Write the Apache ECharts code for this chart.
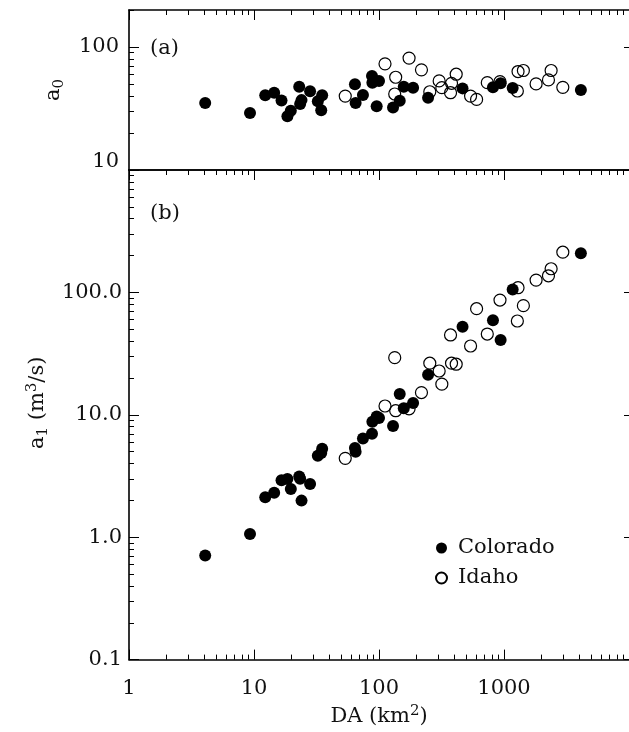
<!DOCTYPE html>
<html><head><meta charset="utf-8">
<script src="https://cdn.jsdelivr.net/npm/echarts@6/dist/echarts.min.js"></script>
<style>html,body{margin:0;padding:0;background:#fff}#c{width:629px;height:732px}</style>
</head><body><div id="c"></div>
<script>
// ---- data ----
const coloradoDA = [4.07, 9.29, 12.3, 14.5, 16.6, 18.5, 19.7, 23.0, 23.4, 24.0, 28.1, 32.4, 34.5, 35.1, 64.2, 65.0, 74.4, 87.9, 88.5, 95.8, 100, 129.5, 146.5, 157.8, 187.4, 247, 466, 816, 940, 1173, 4121];
const coloradoA0 = [35.1, 29.1, 40.5, 42.5, 36.8, 27.4, 30.3, 47.6, 34.4, 37.0, 43.6, 36.3, 30.6, 40.5, 49.8, 35.1, 40.7, 58.2, 51.3, 33.0, 52.9, 32.2, 36.6, 47.6, 46.7, 38.6, 46.1, 47.0, 50.7, 46.4, 44.7];
const coloradoA1 = [0.71, 1.06, 2.12, 2.31, 2.92, 2.99, 2.48, 3.13, 3.0, 1.99, 2.72, 4.63, 4.87, 5.28, 5.35, 4.99, 6.41, 7.0, 8.77, 9.69, 9.4, 8.09, 14.8, 11.3, 12.5, 21.2, 52.5, 59.1, 40.8, 105.8, 209];
const idahoDA = [53.7, 111.7, 133.6, 136.0, 174.0, 218.6, 254.9, 302.9, 318.2, 373.5, 380.4, 414.6, 540.3, 603.6, 735.1, 928.9, 1279, 1295, 1429, 1806, 2268, 2382, 2955];
const idahoA0 = [39.9, 73.0, 41.5, 56.8, 81.3, 65.2, 43.3, 53.0, 46.7, 42.5, 50.7, 60.1, 39.9, 37.5, 51.3, 52.3, 43.9, 63.2, 64.4, 50.1, 54.0, 64.4, 47.0];
const idahoA1 = [4.41, 11.8, 29.3, 10.8, 11.2, 15.2, 26.4, 22.8, 17.8, 44.9, 26.4, 25.9, 36.5, 73.6, 45.7, 86.6, 58.4, 109.2, 77.9, 126, 136.7, 156, 213];

const xMajorTicks = [1, 10, 100, 1000, 10000];
const xMinorTicks = [2,3,4,5,6,7,8,9, 20,30,40,50,60,70,80,90, 200,300,400,500,600,700,800,900, 2000,3000,4000,5000,6000,7000,8000,9000];
const xTickLabels = [1, 10, 100, 1000];
const a0MajorTicks = [10, 100];
const a0MinorTicks = [20,30,40,50,60,70,80,90,200];
const a0TickLabels = [10, 100];
const a1MajorTicks = [0.1, 1, 10, 100, 1000];
const a1MinorTicks = [0.2,0.3,0.4,0.5,0.6,0.7,0.8,0.9, 2,3,4,5,6,7,8,9, 20,30,40,50,60,70,80,90, 200,300,400,500,600,700,800,900];
const a1TickLabels = [0.1, 1, 10, 100];

// ---- styling ----
const FONT = 'DejaVu Serif';
const INK = '#111';
const axisLineStyle = {color: '#000', width: 1.6};
const tickLineStyle = {color: '#000', width: 1};
const zip = (a, b) => a.map((v, i) => [v, b[i]]);
const rich = {
  t: {fontFamily: FONT, fontSize: 21, color: INK, lineHeight: 26},
  sub: {fontFamily: FONT, fontSize: 15, color: INK, lineHeight: 15, verticalAlign: 'bottom'},
  sup: {fontFamily: FONT, fontSize: 15, color: INK, lineHeight: 15, verticalAlign: 'top'}
};

function ax(extra) {
  return Object.assign({
    type: 'log', logBase: 10,
    splitLine: {show: false},
    axisLine: {show: false},
    axisTick: {show: false},
    minorTick: {show: false},
    axisLabel: {show: false}
  }, extra);
}
const line = {show: true, lineStyle: axisLineStyle};
const ticks = (vals, len) => ({show: true, inside: true, length: len, customValues: vals, lineStyle: tickLineStyle});

const xBase0 = {gridIndex: 0, min: 1, max: 10000};
const xBase1 = {gridIndex: 1, min: 1, max: 10000};
const yBase0 = {gridIndex: 0, min: 10, max: 200};
const yBase1 = {gridIndex: 1, min: 0.1, max: 1000};

const option = {
  animation: false,
  backgroundColor: '#fff',
  grid: [
    {left: 129, top: 10, width: 500, height: 160},
    {left: 129, top: 170, width: 500, height: 491}
  ],
  title: [
    {text: '(a)', left: 150, top: 38, padding: 0, textStyle: {fontFamily: FONT, fontSize: 21, fontWeight: 'normal', color: INK}},
    {text: '(b)', left: 150, top: 203, padding: 0, textStyle: {fontFamily: FONT, fontSize: 21, fontWeight: 'normal', color: INK}}
  ],
  legend: {
    data: ['Colorado', 'Idaho'],
    orient: 'vertical', left: 430, top: 528,
    itemWidth: 11, itemHeight: 11, itemGap: 0,
    icon: 'circle', selectedMode: false,
    textStyle: {fontFamily: FONT, fontSize: 21, color: INK, lineHeight: 20, padding: [0, 0, 10, 6]}
  },
  xAxis: [
    ax(Object.assign({position: 'bottom', axisLine: line}, xBase0)),
    ax(Object.assign({position: 'top', axisLine: line, axisTick: ticks(xMajorTicks, 10)}, xBase0)),
    ax(Object.assign({position: 'top', axisTick: ticks(xMinorTicks, 5)}, xBase0)),
    ax(Object.assign({
      position: 'bottom', axisLine: line, axisTick: ticks(xMajorTicks, 10),
      axisLabel: {show: true, customValues: xTickLabels, margin: 18, fontFamily: FONT, fontSize: 21, color: INK,
        formatter: v => String(Math.round(v))},
      name: '{t|DA (km}{sup|2}{t|)}', nameLocation: 'middle', nameGap: 42,
      nameTextStyle: {rich: rich}
    }, xBase1)),
    ax(Object.assign({position: 'bottom', axisTick: ticks(xMinorTicks, 5)}, xBase1)),
    ax(Object.assign({position: 'top', axisLine: line, axisTick: ticks(xMajorTicks, 10)}, xBase1)),
    ax(Object.assign({position: 'top', axisTick: ticks(xMinorTicks, 5)}, xBase1))
  ],
  yAxis: [
    ax(Object.assign({
      position: 'left', axisLine: line, axisTick: ticks(a0MajorTicks, 10),
      axisLabel: {show: true, customValues: a0TickLabels, margin: 10, fontFamily: FONT, fontSize: 21, color: INK,
        lineHeight: 16, verticalAlignMinLabel: 'bottom', formatter: v => String(Math.round(v))},
      name: '{t|a}{sub|0}', nameLocation: 'middle', nameRotate: 90, nameGap: 62,
      nameTextStyle: {rich: rich}
    }, yBase0)),
    ax(Object.assign({position: 'left', axisTick: ticks(a0MinorTicks, 5)}, yBase0)),
    ax(Object.assign({position: 'right', axisTick: ticks(a0MajorTicks, 5)}, yBase0)),
    ax(Object.assign({
      position: 'left', axisLine: line, axisTick: ticks(a1MajorTicks, 10),
      axisLabel: {show: true, customValues: a1TickLabels, margin: 7, fontFamily: FONT, fontSize: 21, color: INK,
        formatter: v => Number(v).toFixed(1)},
      name: '{t|a}{sub|1}{t| (m}{sup|3}{t|/s)}', nameLocation: 'middle', nameRotate: 90, nameGap: 76,
      nameTextStyle: {rich: rich, padding: [0, 0, 0, 24]}
    }, yBase1)),
    ax(Object.assign({position: 'left', axisTick: ticks(a1MinorTicks, 5)}, yBase1)),
    ax(Object.assign({position: 'right', axisTick: ticks(a1MajorTicks, 5)}, yBase1))
  ],
  series: [
    {type: 'scatter', name: 'Colorado', xAxisIndex: 0, yAxisIndex: 0, data: zip(coloradoDA, coloradoA0),
      symbolSize: 12, itemStyle: {color: '#000', opacity: 1}},
    {type: 'scatter', name: 'Idaho', xAxisIndex: 0, yAxisIndex: 0, data: zip(idahoDA, idahoA0),
      symbolSize: 12, itemStyle: {color: 'rgba(255,255,255,0)', borderColor: '#000', borderWidth: 1.2, opacity: 1}},
    {type: 'scatter', name: 'Colorado', xAxisIndex: 3, yAxisIndex: 3, data: zip(coloradoDA, coloradoA1),
      symbolSize: 12, itemStyle: {color: '#000', opacity: 1}},
    {type: 'scatter', name: 'Idaho', xAxisIndex: 3, yAxisIndex: 3, data: zip(idahoDA, idahoA1),
      symbolSize: 12, itemStyle: {color: 'rgba(255,255,255,0)', borderColor: '#000', borderWidth: 1.2, opacity: 1}}
  ]
};
const chart = echarts.init(document.getElementById('c'), null, {renderer: 'canvas'});
chart.setOption(option);
</script>
</body></html>
